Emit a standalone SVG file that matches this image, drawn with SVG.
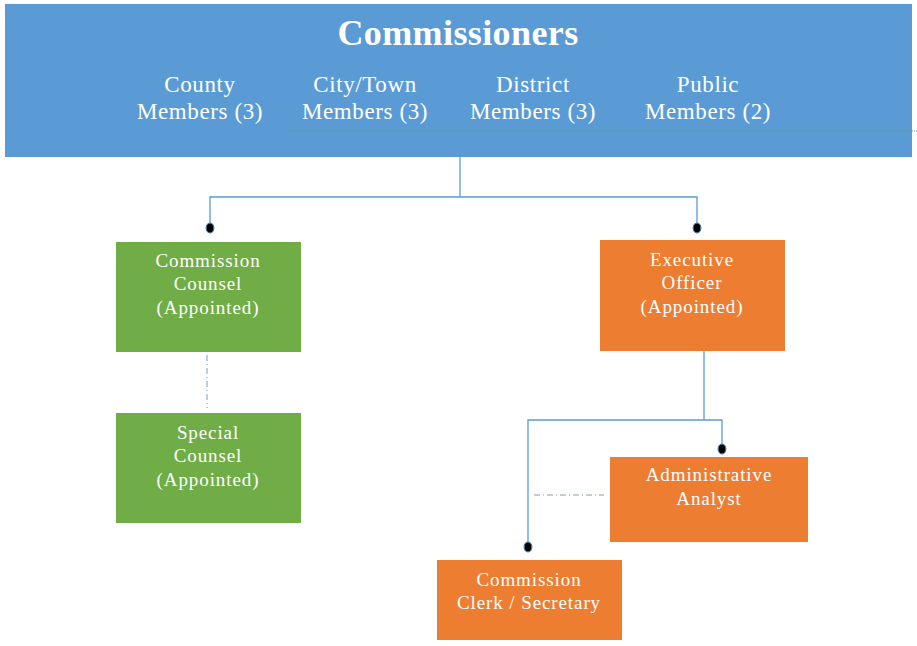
<svg xmlns="http://www.w3.org/2000/svg" width="917" height="646" viewBox="0 0 917 646">
<defs>
<style>
text{font-family:"Liberation Serif","DejaVu Serif",serif;fill:#fff;text-anchor:middle}
.t{font-size:36px;font-weight:bold;letter-spacing:0.4px}
.m{font-size:23px;letter-spacing:0.6px}
.b{font-size:19px;letter-spacing:0.9px}
.c{fill:none;stroke:#5B9BD5;stroke-width:1.3}
.dd{fill:none;stroke:#7F9DB9;stroke-width:1;stroke-dasharray:6,3,1,3}
.dot{fill:#000;stroke:#41719C;stroke-width:1.2}
</style>
</defs>
<g id="commissioners">
<rect x="5" y="4" width="907" height="153" fill="#5B9BD5"/>
<text class="t" x="458" y="45">Commissioners</text>
<text class="m" x="200" y="92">County</text>
<text class="m" x="200" y="119">Members (3)</text>
<text class="m" x="365" y="92">City/Town</text>
<text class="m" x="365" y="119">Members (3)</text>
<text class="m" x="533" y="92">District</text>
<text class="m" x="533" y="119">Members (3)</text>
<text class="m" x="708" y="92">Public</text>
<text class="m" x="708" y="119">Members (2)</text>
<line x1="286" y1="131" x2="917" y2="131" stroke="#5E8FA8" stroke-width="1" stroke-dasharray="1,1"/>
</g>
<g id="connectors">
<polyline class="c" points="460,157 460,197"/>
<polyline class="c" points="210,228 210,197 697,197 697,228"/>
<polyline class="c" points="704,351 704,420"/>
<polyline class="c" points="528,547 528,420 722,420 722,449"/>
<line class="dd" x1="207" y1="355" x2="207" y2="408"/>
<line class="dd" x1="534" y1="495" x2="604" y2="495"/>
<ellipse class="dot" cx="210" cy="228" rx="3.8" ry="4.8"/>
<ellipse class="dot" cx="697" cy="228" rx="3.8" ry="4.8"/>
<ellipse class="dot" cx="722" cy="449" rx="3.8" ry="4.8"/>
<ellipse class="dot" cx="528" cy="547" rx="3.8" ry="4.8"/>
</g>
<g id="commission-counsel">
<rect x="116" y="242" width="185" height="110" fill="#70AD47"/>
<text class="b" x="208" y="267">Commission</text>
<text class="b" x="208" y="290">Counsel</text>
<text class="b" x="208" y="314">(Appointed)</text>
</g>
<g id="special-counsel">
<rect x="116" y="413" width="185" height="110" fill="#70AD47"/>
<text class="b" x="208" y="439">Special</text>
<text class="b" x="208" y="462">Counsel</text>
<text class="b" x="208" y="486">(Appointed)</text>
</g>
<g id="executive-officer">
<rect x="600" y="240" width="185" height="111" fill="#ED7D31"/>
<text class="b" x="692" y="266">Executive</text>
<text class="b" x="692" y="289">Officer</text>
<text class="b" x="692" y="313">(Appointed)</text>
</g>
<g id="administrative-analyst">
<rect x="610" y="457" width="198" height="85" fill="#ED7D31"/>
<text class="b" x="709" y="481">Administrative</text>
<text class="b" x="709" y="505">Analyst</text>
</g>
<g id="commission-clerk">
<rect x="437" y="560" width="185" height="80" fill="#ED7D31"/>
<text class="b" x="529" y="586">Commission</text>
<text class="b" x="529" y="609">Clerk / Secretary</text>
</g>
</svg>
